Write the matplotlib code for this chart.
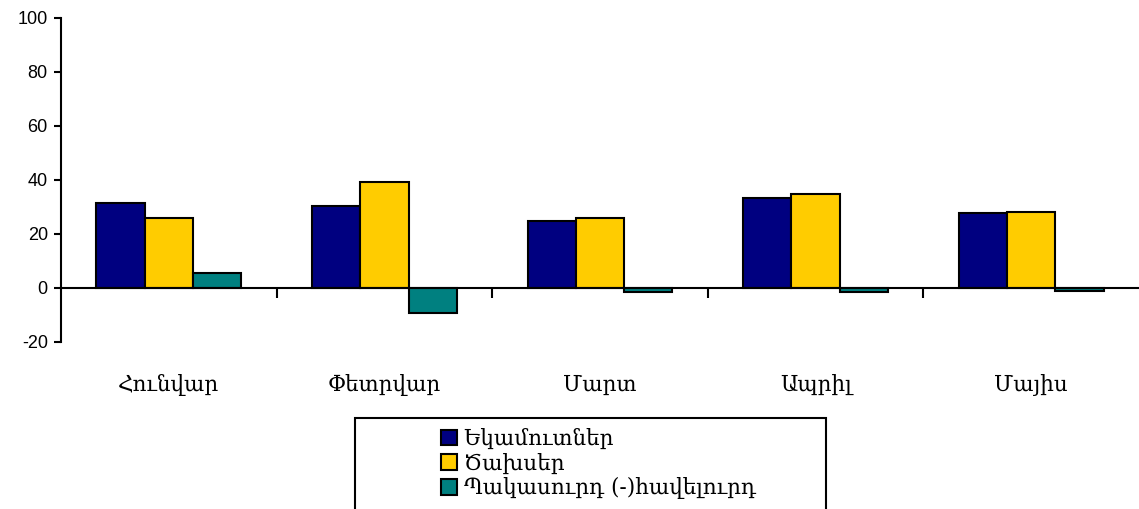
import matplotlib.pyplot as plt
import matplotlib.transforms as mtransforms
from matplotlib import font_manager
from matplotlib.patches import Patch, Rectangle
import numpy as np

months = ["Հունվար", "Փետրվար", "Մարտ", "Ապրիլ", "Մայիս"]
series_names = ["Եկամուտներ", "Ծախսեր", "Պակասուրդ (-)հավելուրդ"]
income = [31.6, 30.4, 24.9, 33.4, 27.6]
expenses = [25.8, 39.1, 26.0, 34.9, 28.0]
deficit = [5.4, -9.1, -1.4, -1.5, -1.0]
colors = ["#000080", "#FFCC00", "#008080"]
yticks = [-20, 0, 20, 40, 60, 80, 100]

ARM = ["DejaVu Serif", "DejaVu Sans"]

# plain Liberation Sans (not the Narrow variant)
sans_path = None
for f in font_manager.fontManager.ttflist:
    if f.fname.endswith("LiberationSans-Regular.ttf"):
        sans_path = f.fname
        break
tick_font = (font_manager.FontProperties(fname=sans_path, size=13) if sans_path
             else font_manager.FontProperties(family="DejaVu Sans", size=12))

fig = plt.figure(figsize=(11.39, 5.09), dpi=100)
ax = fig.add_axes([61 / 1139, 1 - 342 / 509, 1 - 61 / 1139, (342 - 18) / 509])

x = np.arange(len(months))
w = 0.224
for i, (vals, col) in enumerate(zip([income, expenses, deficit], colors)):
    ax.bar(x + (i - 1) * w, vals, w, color=col, edgecolor="black", linewidth=1.5, zorder=3)

ax.set_xlim(-0.5, len(months) - 0.5)
ax.set_ylim(-20, 100)

for s in ["top", "right"]:
    ax.spines[s].set_visible(False)
ax.spines["left"].set_linewidth(1.5)
ax.spines["bottom"].set_linewidth(1.5)
ax.spines["bottom"].set_position(("data", 0))
ax.spines["bottom"].set_zorder(4)

ax.set_yticks(yticks)
ax.set_yticklabels([str(v) for v in yticks])
for lbl in ax.get_yticklabels():
    lbl.set_fontproperties(tick_font)
ax.tick_params(axis="y", direction="out", length=5, width=1.5, pad=4.5)

ax.set_xticks(np.arange(len(months) - 1) + 0.5)
ax.set_xticklabels([])
ax.tick_params(axis="x", which="major", direction="out", length=7, width=1.5)

trans = mtransforms.blended_transform_factory(ax.transData, fig.transFigure)
for xi, m in zip(x, months):
    ax.text(xi, 1 - 385 / 509, m, transform=trans, ha="center", va="center",
            fontsize=15.5, family=ARM)

# legend box
fig.patches.append(Rectangle((355 / 1139, 1 - 540 / 509), (826 - 355) / 1139, (540 - 418) / 509,
                             transform=fig.transFigure, fill=False, edgecolor="black",
                             linewidth=1.5, zorder=5))
handles = [Patch(facecolor=c, edgecolor="black", linewidth=1.5) for c in colors]
leg = fig.legend(handles, series_names, loc="upper left",
                 bbox_to_anchor=(441 / 1139, 1 - 428 / 509), frameon=False,
                 handlelength=0.75, handleheight=0.75, handletextpad=0.3,
                 labelspacing=0.12, borderpad=0, borderaxespad=0,
                 prop={"family": ARM, "size": 15.5})

fig.savefig("out.png", dpi=100)
